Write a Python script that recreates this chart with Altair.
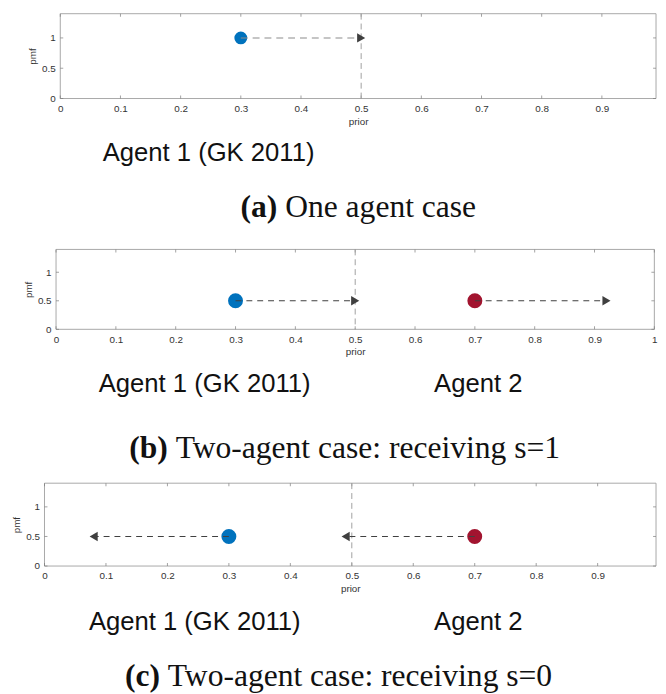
import altair as alt
import pandas as pd

# ---------------- data ----------------
X_TICKS_A = [0, 0.1, 0.2, 0.3, 0.4, 0.5, 0.6, 0.7, 0.8, 0.9]
X_TICKS_B = [0, 0.1, 0.2, 0.3, 0.4, 0.5, 0.6, 0.7, 0.8, 0.9, 1]
X_TICKS_C = [0, 0.1, 0.2, 0.3, 0.4, 0.5, 0.6, 0.7, 0.8, 0.9]
Y_TICKS = [0, 0.5, 1]
PRIOR_LINE = [0.5]

A_AGENTS = ["Agent 1"]
A_PRIOR = [0.3]
A_PMF = [1.0]
A_POST = [0.5]
A_LABELS = ["Agent 1 (GK 2011)"]
A_TAG = ["(a)"]
A_CAPTION = ["One agent case"]

B_AGENTS = ["Agent 1", "Agent 2"]
B_PRIOR = [0.3, 0.7]
B_PMF = [0.5, 0.5]
B_POST = [0.5, 0.92]
B_LABELS = ["Agent 1 (GK 2011)", "Agent 2"]
B_TAG = ["(b)"]
B_CAPTION = ["Two-agent case: receiving s=1"]

C_AGENTS = ["Agent 1", "Agent 2"]
C_PRIOR = [0.3, 0.7]
C_PMF = [0.5, 0.5]
C_POST = [0.08, 0.49]
C_LABELS = ["Agent 1 (GK 2011)", "Agent 2"]
C_TAG = ["(c)"]
C_CAPTION = ["Two-agent case: receiving s=0"]

AGENT_DOMAIN = ["Agent 1", "Agent 2"]
AGENT_COLORS = ["#0072BD", "#A2142F"]

# ---------------- style / layout ----------------
SANS = "Liberation Sans"
SERIF = "Liberation Serif"
TICK = "#7a7a7a"
LAB = "#333333"
FRAME = "#a8a8a8"
HEAD = "#3f3f3f"
W, H = 658, 686


def panel(agents, prior, pmf, post, labels, tag, caption, xticks, L):
    df = pd.DataFrame({"agent": agents, "prior": prior, "pmf": pmf, "post": post})
    df["dir"] = ["right" if b > a else "left" for a, b in zip(prior, post)]
    x0, x1, y0, y1 = L["x0"], L["x1"], L["top"], L["bot"]
    xs = alt.Scale(domain=[0, L["xmax"]], range=[x0, x1], nice=False, zero=False)
    ys = alt.Scale(domain=[0, 1.4], range=[y1, y0], nice=False, zero=False)
    base = alt.Chart(df)

    xb = alt.Axis(values=xticks, format="~g", title="prior", orient="bottom",
                  offset=y1 - H, ticks=False, domain=False, grid=False,
                  labelPadding=5, titlePadding=3, labelFlush=False,
                  labelFont=SANS, labelFontSize=10, labelColor=LAB,
                  titleFont=SANS, titleFontSize=10, titleFontWeight="normal", titleColor=LAB)
    yl = alt.Axis(values=Y_TICKS, format="~g", title="pmf", orient="left",
                  offset=-x0, ticks=False, domain=False, grid=False,
                  labelPadding=5, titlePadding=4,
                  labelFont=SANS, labelFontSize=10, labelColor=LAB,
                  titleFont=SANS, titleFontSize=10, titleFontWeight="normal", titleColor=LAB)

    def X(f, ax=None):
        return alt.X(f, scale=xs, axis=ax)

    def Y(f, ax=None):
        return alt.Y(f, scale=ys, axis=ax)

    frame = alt.Chart(pd.DataFrame({"v": [0]})).mark_rect(
        filled=False, stroke=FRAME, strokeWidth=1
    ).encode(x=alt.value(x0), x2=alt.value(x1), y=alt.value(y0), y2=alt.value(y1))

    xt = alt.Chart(pd.DataFrame({"t": xticks}))
    yt = alt.Chart(pd.DataFrame({"t": Y_TICKS}))
    tk = dict(color=TICK, size=3, thickness=1)
    ticks = [
        xt.mark_tick(**tk).encode(x=X("t:Q"), y=alt.value(y0 + 1.5)),
        xt.mark_tick(**tk).encode(x=X("t:Q"), y=alt.value(y1 - 1.5)),
        yt.mark_tick(**tk).encode(y=Y("t:Q"), x=alt.value(x0 + 1.5)),
        yt.mark_tick(**tk).encode(y=Y("t:Q"), x=alt.value(x1 - 1.5)),
    ]

    vline = alt.Chart(pd.DataFrame({"p": PRIOR_LINE})).mark_rule(
        color="#a0a0a0", strokeDash=[6, 4], strokeWidth=1
    ).encode(x=X("p:Q"), y=alt.value(y0), y2=alt.value(y1))

    pts = base.mark_circle(opacity=1, size=L["pt"]).encode(
        x=X("prior:Q", xb),
        y=Y("pmf:Q", yl),
        color=alt.Color("agent:N", scale=alt.Scale(domain=AGENT_DOMAIN, range=AGENT_COLORS),
                        legend=None),
    )
    shaft = base.mark_rule(color=L["shaft"], strokeDash=L["dash"], strokeWidth=1.1).encode(
        x=X("prior:Q"), x2="post:Q", y=Y("pmf:Q"),
    )
    head = base.mark_point(filled=True, opacity=1, color=HEAD, size=90).encode(
        x=X("post:Q"), y=Y("pmf:Q"),
        shape=alt.Shape("dir:N", scale=alt.Scale(domain=["right", "left"],
                                                  range=["triangle-right", "triangle-left"]),
                        legend=None),
    )

    layers = [frame] + ticks + [vline, pts, shaft, head]

    for lab, lx in zip(labels, L["lab_x"]):
        layers.append(
            alt.Chart(pd.DataFrame({"t": [lab]})).mark_text(
                font=SANS, fontSize=26, align="left", baseline="alphabetic", color="#111111"
            ).encode(text="t:N", x=alt.value(lx), y=alt.value(L["lab_y"]))
        )
    layers.append(
        alt.Chart(pd.DataFrame({"t": tag})).mark_text(
            font=SERIF, fontSize=32, fontWeight="bold", align="right",
            baseline="alphabetic", color="#111111"
        ).encode(text="t:N", x=alt.value(L["cap_x"]), y=alt.value(L["cap_y"]))
    )
    layers.append(
        alt.Chart(pd.DataFrame({"t": caption})).mark_text(
            font=SERIF, fontSize=32, align="left", baseline="alphabetic", color="#111111"
        ).encode(text="t:N", x=alt.value(L["cap_x"] + 8), y=alt.value(L["cap_y"]))
    )
    return layers


LA = dict(xmax=0.99, x0=53, x1=657, top=0, bot=86, pt=170, shaft="#8c8c8c", dash=[7, 5],
          lab_x=[96], lab_y=149, cap_x=273, cap_y=206)
LB = dict(xmax=1.0, x0=48.7, x1=655.3, top=239, bot=320, pt=230, shaft="#404040", dash=[6, 5],
          lab_x=[92, 432], lab_y=384, cap_x=162, cap_y=450)
LC = dict(xmax=0.995, x0=37, x1=657, top=476, bot=560, pt=230, shaft="#404040", dash=[6, 5],
          lab_x=[82, 432], lab_y=625, cap_x=154, cap_y=682)

layers = (
    panel(A_AGENTS, A_PRIOR, A_PMF, A_POST, A_LABELS, A_TAG, A_CAPTION, X_TICKS_A, LA)
    + panel(B_AGENTS, B_PRIOR, B_PMF, B_POST, B_LABELS, B_TAG, B_CAPTION, X_TICKS_B, LB)
    + panel(C_AGENTS, C_PRIOR, C_PMF, C_POST, C_LABELS, C_TAG, C_CAPTION, X_TICKS_C, LC)
)

chart = alt.layer(*layers).resolve_scale(x="independent", y="independent").properties(
    width=W, height=H, padding={"left": 0, "right": 0, "top": 0, "bottom": 0}
).configure_view(stroke="transparent")

chart.save("out.html", embed_options={"renderer": "svg", "actions": False})
